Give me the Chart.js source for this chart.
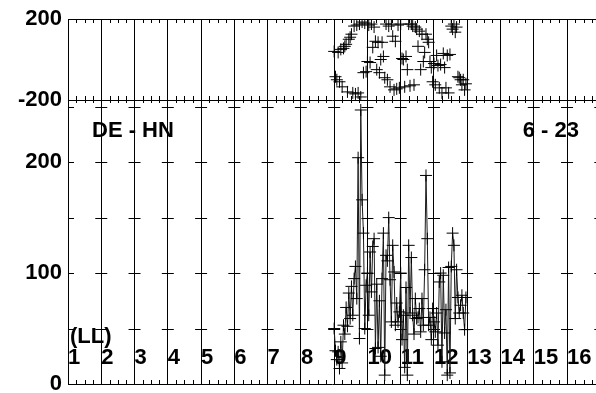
<!DOCTYPE html>
<html><head><meta charset="utf-8">
<style>html,body{margin:0;padding:0;background:#fff;overflow:hidden}canvas{display:block}</style>
<script src="https://cdn.jsdelivr.net/npm/chart.js@4.4.1/dist/chart.umd.min.js"></script>
</head><body>
<canvas id="c" width="596" height="393"></canvas>
<script>
// ---- data ----
const hours = [
 9.00,9.04,9.08,9.12,9.16,9.20,9.24,9.28,9.32,9.36,9.40,9.44,9.48,9.52,9.56,9.60,9.64,9.68,9.72,9.76,
 9.80,9.84,9.88,9.92,9.96,10.00,10.04,10.08,10.12,10.16,10.20,10.24,10.28,10.32,10.36,10.40,10.44,10.48,10.52,10.56,
 10.60,10.64,10.68,10.72,10.76,10.80,10.84,10.88,10.92,10.96,11.00,11.04,11.08,11.12,11.16,11.20,11.24,11.28,11.32,11.36,
 11.40,11.44,11.48,11.52,11.56,11.60,11.64,11.68,11.72,11.76,11.80,11.84,11.88,11.92,11.96,12.00,12.04,12.08,12.12,12.16,
 12.20,12.24,12.28,12.32,12.36,12.40,12.44,12.48,12.52,12.56,12.60,12.64,12.68,12.72,12.76,12.80,12.84,12.88,12.92,12.96
];
const amplitude = [
 50,30,22,29,14,38,19,53,45,69,52,82,59,88,62,95,106,77,204,41,
 247,166,136,50,89,100,62,119,83,124,131,32,90,33,75,25,95,136,8,116,
 111,150,94,56,125,101,53,73,56,65,100,40,62,15,87,8,125,64,114,62,
 45,77,59,60,68,47,77,53,103,188,131,53,60,40,68,56,47,64,35,92,
 100,20,98,46,67,8,105,10,106,136,125,59,103,78,64,71,80,64,49,78
];
const phase = [
 40,-85,-100,35,-110,50,-135,55,65,75,-160,100,110,125,-165,165,-170,170,-165,175,
 -185,185,-65,180,-60,-10,170,-15,175,60,160,90,-50,85,-65,0,85,15,-90,175,
 -100,165,-135,175,115,-150,90,-145,170,-140,175,5,0,-135,15,-50,175,-130,175,165,
 -125,160,150,65,140,-50,125,-10,35,125,100,85,-10,-40,-110,-20,-125,20,-30,-140,
 -25,-165,30,-40,-140,20,-165,25,165,150,175,135,160,-85,-90,-100,-125,-100,-150,-120
];
const xTicks = [1,2,3,4,5,6,7,8,9,10,11,12,13,14,15,16];
const phaseTicks = [-200,0,200];
const phaseLabels = [-200,200];
const ampTicks = [0,50,100,150,200,250];
const ampLabels = [0,100,200];
const stationLabel = 'DE - HN';
const dateLabel = '6 - 23';
const modeLabel = '(LL)';

const FONT = {family:'"Liberation Sans", Arial, sans-serif', size:22, weight:'bold'};

function zeroPad(s){ s.paddingLeft = 0; s.paddingRight = 0; s.paddingTop = 0; s.paddingBottom = 0; }

const deco = {
  id:'deco',
  beforeDatasetsDraw(chart){
    const {ctx, chartArea:ca, scales} = chart;
    const x = scales.x, yA = scales.yA, yP = scales.yP;
    ctx.save();
    ctx.strokeStyle = '#000';
    ctx.lineWidth = 1;
    ctx.beginPath();
    // tick crosses of the lower panel at each vertical grid line
    ampTicks.forEach(v => {
      if (v === 0) return;
      const py = Math.round(yP.getPixelForValue(v)) + 0.5;
      xTicks.concat([17]).forEach(t => {
        const px = x.getPixelForValue(t);
        ctx.moveTo(Math.max(ca.left, px - 6), py);
        ctx.lineTo(Math.min(ca.right, px + 6), py);
      });
    });
    // minor x ticks (quarter hours)
    for (let k = 4; k < 68; k++) {
      if (k % 4 === 0) continue;
      const px = Math.round(x.getPixelForValue(k / 4)) + 0.5;
      if (px <= ca.left || px >= ca.right) continue;
      ctx.moveTo(px, ca.top); ctx.lineTo(px, ca.top + 4);
      ctx.moveTo(px, yA.bottom - 4); ctx.lineTo(px, yA.bottom + 3);
      ctx.moveTo(px, ca.bottom); ctx.lineTo(px, ca.bottom - 4);
    }
    ctx.stroke();
    // annotations
    ctx.fillStyle = '#000';
    ctx.font = 'bold 22px "Liberation Sans", Arial, sans-serif';
    ctx.textBaseline = 'middle';
    ctx.textAlign = 'left';
    ctx.fillText(stationLabel, 92, 131);
    ctx.fillText(modeLabel, 70, 337);
    ctx.textAlign = 'right';
    ctx.fillText(dateLabel, 579, 131);
    ctx.restore();
  }
};

new Chart(document.getElementById('c'), {
  data: {
    datasets: [
      {
        type:'line', label:'amplitude', yAxisID:'yP', xAxisID:'x',
        data: hours.map((h,i)=>({x:h, y:amplitude[i]})),
        borderColor:'#1a1a1a', borderWidth:1, tension:0,
        pointStyle:'cross', pointRadius:6, pointBorderColor:'#000', pointBorderWidth:1,
        pointBackgroundColor:'#000'
      },
      {
        type:'scatter', label:'phase', yAxisID:'yA', xAxisID:'x',
        data: hours.map((h,i)=>({x:h, y:phase[i]})),
        showLine:false,
        pointStyle:'cross', pointRadius:6, pointBorderColor:'#000', pointBorderWidth:1
      }
    ]
  },
  options: {
    responsive:false, animation:false, devicePixelRatio:1,
    layout:{padding:{top:19, bottom:9, left:0, right:0}, autoPadding:false},
    plugins:{legend:{display:false}, tooltip:{enabled:false}},
    scales:{
      x:{
        type:'linear', position:'bottom', min:1, max:1+(596-68)/33.27,
        afterBuildTicks: s => { s.ticks = xTicks.map(v=>({value:v})); },
        afterFit: s => { s.height = 0; zeroPad(s); },
        ticks:{mirror:true, padding:13, align:'start', font:FONT, color:'#000',
               autoSkip:false, maxRotation:0, minRotation:0,
               callback: v => String(v)},
        grid:{color:'#000', lineWidth:1, drawTicks:false},
        border:{display:true, color:'#000', width:1}
      },
      yP:{
        type:'linear', position:'left', stack:'panels', stackWeight:284, min:0, max:256,
        afterBuildTicks: s => { s.ticks = ampTicks.map(v=>({value:v})); },
        afterFit: s => { s.width = 68; zeroPad(s); },
        ticks:{padding:6, font:FONT, color:'#000',
               callback: v => ampLabels.includes(v) ? String(v) : ''},
        grid:{display:false, drawTicks:false},
        border:{display:true, color:'#000', width:1}
      },
      yA:{
        type:'linear', position:'left', stack:'panels', stackWeight:81, min:-200, max:200,
        afterBuildTicks: s => { s.ticks = phaseTicks.map(v=>({value:v})); },
        afterFit: s => { s.width = 68; zeroPad(s); },
        ticks:{padding:6, font:FONT, color:'#000',
               callback: v => phaseLabels.includes(v) ? String(v) : ''},
        grid:{color:'#000', lineWidth:1, drawTicks:false},
        border:{display:true, color:'#000', width:1}
      }
    }
  },
  plugins:[deco]
});
</script>
</body></html>
